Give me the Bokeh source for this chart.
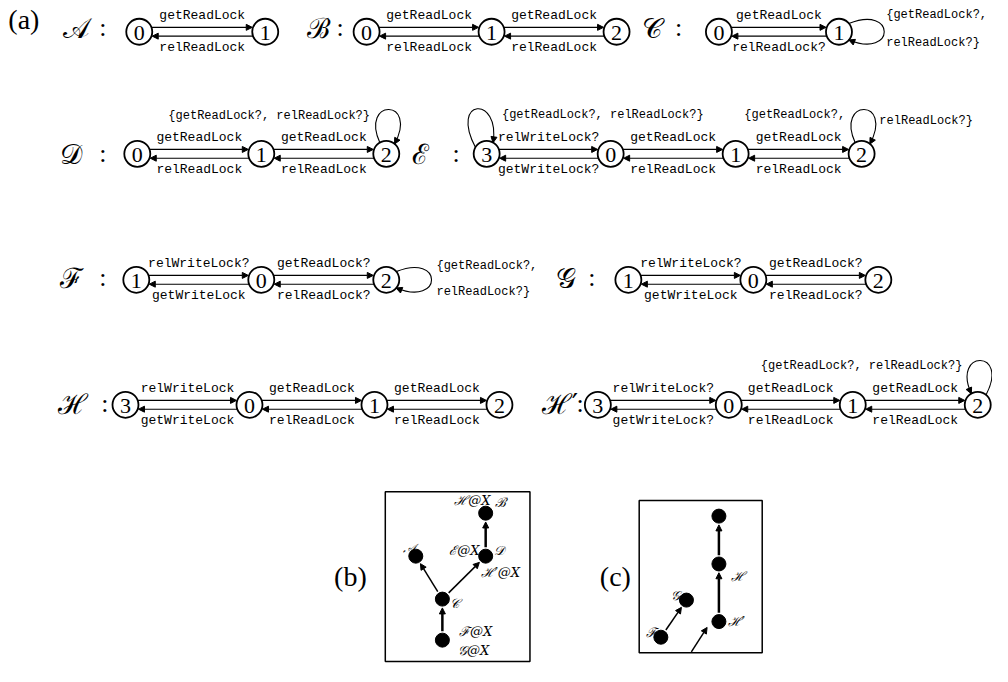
import math
from bokeh.plotting import figure
from bokeh.models import Range1d, Arrow, NormalHead, ColumnDataSource
from bokeh.core.properties import value
from bokeh.embed import file_html
from bokeh.resources import INLINE

# ---------------- data: automata of panel (a) ----------------
A_states = ["0", "1"]
A_x = [141, 269]
A_top = ["getReadLock"]
A_bot = ["relReadLock"]

B_states = ["0", "1", "2"]
B_x = [372, 499, 626]
B_top = ["getReadLock", "getReadLock"]
B_bot = ["relReadLock", "relReadLock"]

C_states = ["0", "1"]
C_x = [730, 852]
C_top = ["getReadLock"]
C_bot = ["relReadLock?"]

D_states = ["0", "1", "2"]
D_x = [139, 265, 392]
D_top = ["getReadLock", "getReadLock"]
D_bot = ["relReadLock", "relReadLock"]

E_states = ["3", "0", "1", "2"]
E_x = [494, 620, 747, 875]
E_top = ["relWriteLock?", "getReadLock", "getReadLock"]
E_bot = ["getWriteLock?", "relReadLock", "relReadLock"]

F_states = ["1", "0", "2"]
F_x = [138, 265, 392]
F_top = ["relWriteLock?", "getReadLock?"]
F_bot = ["getWriteLock", "relReadLock?"]

G_states = ["1", "0", "2"]
G_x = [638, 765, 892]
G_top = ["relWriteLock?", "getReadLock?"]
G_bot = ["getWriteLock", "relReadLock?"]

H_states = ["3", "0", "1", "2"]
H_x = [127, 253, 380, 507]
H_top = ["relWriteLock", "getReadLock", "getReadLock"]
H_bot = ["getWriteLock", "relReadLock", "relReadLock"]

Hp_states = ["3", "0", "1", "2"]
Hp_x = [607, 740, 866, 993]
Hp_top = ["relWriteLock?", "getReadLock", "getReadLock"]
Hp_bot = ["getWriteLock?", "relReadLock", "relReadLock"]

row_y = [32, 157, 286, 414]

names = ["𝒜", "ℬ", "𝒞", "𝒟", "ℰ", "ℱ", "𝒢", "ℋ", "ℋ′"]
name_x = [64, 311, 652, 60, 418, 60, 564, 58, 550]
name_y = [29, 29, 29, 158, 158, 285, 285, 414, 414]
colon_x = [104, 345, 689, 104, 463, 104, 601, 106, 589]

# ---------------- data: graphs of panels (b) and (c) ----------------
b_dot_x = [493, 422, 493, 449, 449]
b_dot_y = [525, 569, 569, 613, 655]
b_edges = [(4, 3), (3, 1), (3, 2), (2, 0)]
b_lbl = ["ℋ@X", "ℬ", "𝒜", "ℰ@X", "𝒟", "ℋ′@X", "𝒞", "ℱ@X", "𝒢@X"]
b_lbl_x = [461, 502, 409, 456, 501, 488, 457, 466, 465]
b_lbl_y = [512, 514, 561, 563, 563, 586, 617, 646, 666]

c_dot_x = [730, 730, 730, 697, 671]
c_dot_y = [528, 577, 636, 614, 652]
c_edges = [(2, 1), (1, 0), (4, 3)]
c_lbl = ["ℋ", "𝒢", "ℱ", "ℋ′"]
c_lbl_x = [742, 681, 656, 739]
c_lbl_y = [590, 609, 647, 636]

R = 13  # state circle radius (px)

p = figure(width=992, height=666, x_range=Range1d(0, 1008), y_range=Range1d(682, 0),
           output_backend="svg", toolbar_location=None, min_border=0,
           x_axis_location=None, y_axis_location=None)
p.grid.visible = False
p.outline_line_color = None
p.background_fill_color = "white"

MONO = value("Liberation Mono")
SERIF = value("Liberation Serif")
SCRIPT = value("DejaVu Serif")


def arrows(x0, y0, x1, y1, lw=1.1, size=6):
    src = ColumnDataSource(dict(x0=x0, y0=y0, x1=x1, y1=y1))
    p.add_layout(Arrow(x_start="x0", y_start="y0", x_end="x1", y_end="y1", source=src,
                       line_width=lw, line_color="black",
                       end=NormalHead(size=size, fill_color="black", line_color="black", line_width=1)))


def automaton(states, xs, y, tops, bots):
    dy = 4.5
    dx = math.sqrt(R * R - dy * dy)
    ax0, ay0, ax1, ay1 = [], [], [], []
    for i in range(len(xs) - 1):
        a, b = xs[i], xs[i + 1]
        ax0 += [a + dx, b - dx]
        ay0 += [y - dy, y + dy]
        ax1 += [b - dx - 1, a + dx + 1]
        ay1 += [y - dy, y + dy]
    arrows(ax0, ay0, ax1, ay1)
    mids = [(xs[i] + xs[i + 1]) / 2 for i in range(len(xs) - 1)]
    p.text(mids, [y - 17] * len(mids), text=tops, text_font=MONO, text_font_size="13px",
           text_align="center", text_baseline="middle")
    p.text(mids, [y + 16] * len(mids), text=bots, text_font=MONO, text_font_size="13px",
           text_align="center", text_baseline="middle")
    p.circle(xs, [y] * len(xs), radius=R, radius_units="screen", fill_color="white",
             line_color="black", line_width=1.8)
    p.text(xs, [y + 1] * len(xs), text=states, text_font=SERIF, text_font_size="22px",
           text_align="center", text_baseline="middle")


automaton(A_states, A_x, row_y[0], A_top, A_bot)
automaton(B_states, B_x, row_y[0], B_top, B_bot)
automaton(C_states, C_x, row_y[0], C_top, C_bot)
automaton(D_states, D_x, row_y[1], D_top, D_bot)
automaton(E_states, E_x, row_y[1], E_top, E_bot)
automaton(F_states, F_x, row_y[2], F_top, F_bot)
automaton(G_states, G_x, row_y[2], G_top, G_bot)
automaton(H_states, H_x, row_y[3], H_top, H_bot)
automaton(Hp_states, Hp_x, row_y[3], Hp_top, Hp_bot)


def loop(cx, cy, kind):
    if kind == "right":
        a0, a1 = math.radians(-40), math.radians(40)
        s = (cx + R * math.cos(a0), cy + R * math.sin(a0))
        e = (cx + R * math.cos(a1), cy + R * math.sin(a1))
        c0 = (cx + 58, cy - 28)
        c1 = (cx + 58, cy + 28)
    elif kind == "up":
        s = (cx - 6.5, cy - 11.3)
        e = (cx + 8.4, cy - 10)
        c0 = (cx - 27, cy - 57)
        c1 = (cx + 33, cy - 57)
    elif kind == "upleft":
        s = (cx - 11.3, cy - 6.5)
        e = (cx + 6.5, cy - 11.3)
        c0 = (cx - 38, cy - 57)
        c1 = (cx + 14, cy - 60)
    else:  # "upback": comes down on the left
        s = (cx + 8.4, cy - 10)
        e = (cx - 6.5, cy - 11.3)
        c0 = (cx + 33, cy - 57)
        c1 = (cx - 27, cy - 57)
    p.bezier(x0=[s[0]], y0=[s[1]], x1=[e[0]], y1=[e[1]], cx0=[c0[0]], cy0=[c0[1]],
             cx1=[c1[0]], cy1=[c1[1]], line_color="black", line_width=1.1)
    tx, ty = e[0] - c1[0], e[1] - c1[1]
    n = math.hypot(tx, ty)
    arrows([e[0] - 3 * tx / n], [e[1] - 3 * ty / n], [e[0]], [e[1]])


loop(C_x[1], row_y[0], "right")
loop(D_x[2], row_y[1], "up")
loop(E_x[0], row_y[1], "upleft")
loop(E_x[3], row_y[1], "up")
loop(F_x[2], row_y[2], "right")
loop(Hp_x[3], row_y[3], "upback")

# loop labels
loop_txt = ["{getReadLock?,", "relReadLock?}", "{getReadLock?, relReadLock?}",
            "{getReadLock?, relReadLock?}", "{getReadLock?,", "relReadLock?}",
            "{getReadLock?,", "relReadLock?}", "{getReadLock?, relReadLock?}"]
loop_x = [900, 900, 273, 612, 807, 893, 443, 443, 875]
loop_y = [15, 44, 118, 117, 117, 123, 272, 298, 374]
loop_al = ["left", "left", "center", "center", "center", "left", "left", "left", "center"]
p.text(loop_x, loop_y, text=loop_txt, text_font=MONO, text_font_size="12px",
       text_align=loop_al, text_baseline="middle")

# automaton names
p.text(name_x, name_y, text=names, text_font=SCRIPT, text_font_size="28px",
       text_align="left", text_baseline="middle")
p.text(colon_x, [y - 1 for y in name_y], text=[":"] * len(colon_x), text_font=SERIF,
       text_font_size="26px", text_align="center", text_baseline="middle")

# panel letters
p.text([8, 339, 609], [19, 590, 590], text=["(a)", "(b)", "(c)"], text_font=SERIF,
       text_font_size="28px", text_align="left", text_baseline="middle")

# ---------------- panels (b) and (c) ----------------
p.quad(left=[391], right=[538], top=[503], bottom=[677], fill_color=None,
       line_color="black", line_width=1.5)
p.quad(left=[649], right=[774], top=[512], bottom=[668], fill_color=None,
       line_color="black", line_width=1.5)


def graph(dx, dy, edges):
    x0, y0, x1, y1 = [], [], [], []
    for a, b in edges:
        ux, uy = dx[b] - dx[a], dy[b] - dy[a]
        n = math.hypot(ux, uy)
        ux, uy = ux / n, uy / n
        x0.append(dx[a] + 9 * ux)
        y0.append(dy[a] + 9 * uy)
        x1.append(dx[b] - 9 * ux)
        y1.append(dy[b] - 9 * uy)
    return x0, y0, x1, y1


bx0, by0, bx1, by1 = graph(b_dot_x, b_dot_y, b_edges)
arrows([bx0[0], bx0[3]], [by0[0], by0[3]], [bx1[0], bx1[3]], [by1[0], by1[3]], lw=2.5, size=6)
arrows([bx0[1], bx0[2]], [by0[1], by0[2]], [bx1[1], bx1[2]], [by1[1], by1[2]], lw=1.5, size=6)
p.scatter(b_dot_x, b_dot_y, size=14, color="black")
p.text(b_lbl_x, b_lbl_y, text=b_lbl, text_font=SCRIPT, text_font_style="italic",
       text_font_size="13px", text_align="left", text_baseline="middle")

cx0, cy0, cx1, cy1 = graph(c_dot_x, c_dot_y, c_edges)
arrows(cx0[:2], cy0[:2], cx1[:2], cy1[:2], lw=2.5, size=6)
arrows([cx0[2], 702], [cy0[2], 667], [cx1[2], 718], [cy1[2], 642], lw=1.5, size=6)
p.scatter(c_dot_x, c_dot_y, size=14, color="black")
p.text(c_lbl_x, c_lbl_y, text=c_lbl, text_font=SCRIPT, text_font_style="italic",
       text_font_size="13px", text_align="left", text_baseline="middle")

open("out.html", "w").write(file_html(p, INLINE))
